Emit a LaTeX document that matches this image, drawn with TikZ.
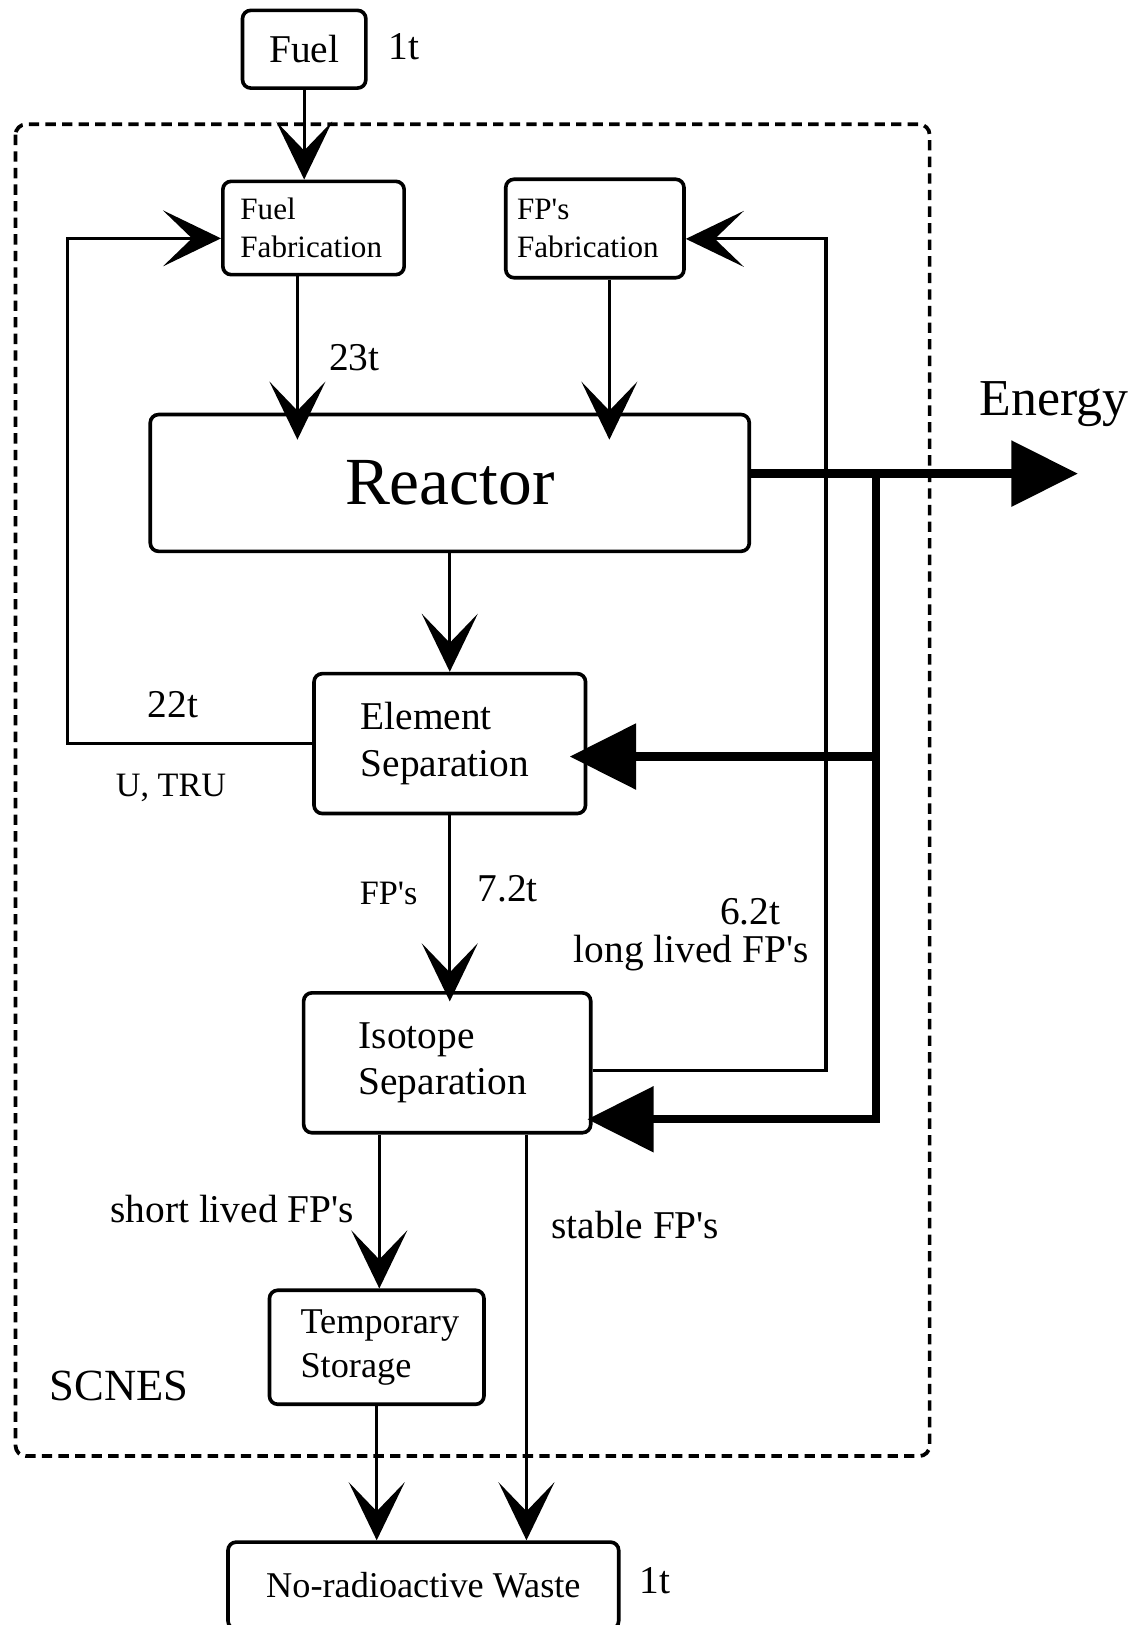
\documentclass[tikz,border=0pt]{standalone}
\usepackage{fontspec}
\setmainfont{Liberation Serif}[Ligatures=TeXOff]
\usetikzlibrary{arrows.meta,calc}
\begin{document}
\begin{tikzpicture}[x=0.5pt,y=-0.5pt,
  box/.style={draw, line width=1.75pt, rounded corners=4pt, inner sep=0pt},
  lbox/.style={box, align=left, inner xsep=0pt},
  conn/.style={line width=1.5pt},
  vhead/.style={-{Stealth[length=28pt,width=27pt,inset=14pt]}},
  thickc/.style={line width=4pt},
  bighead/.style={-{Triangle[length=32pt,width=31pt]}},
  lbl/.style={inner sep=0pt},
  fa/.style={font=\fontsize{15}{18}\selectfont},
  fb/.style={font=\fontsize{19}{22.5}\selectfont},
  fc/.style={font=\fontsize{17.5}{21}\selectfont},
  fd/.style={font=\fontsize{16.5}{20}\selectfont}
]
\useasboundingbox (0,0) rectangle (1104,1568);
% SCNES boundary
\draw[line width=1.8pt, dash pattern=on 5pt off 3pt, rounded corners=5pt] (15,120) rectangle (897,1405);

% boxes
\node[box, fb, minimum width=59.5pt, minimum height=37.5pt] (fuel) at (293.5,47.5) {Fuel};
\node[lbox, fa, text width=87.5pt, minimum height=45pt] (fuelfab) at (302.5,220) {\hspace*{8.5pt}Fuel\\\hspace*{8.5pt}Fabrication};
\node[lbox, fa, text width=86pt, minimum height=47.5pt] (fpfab) at (574,220.5) {\hspace*{5.5pt}FP's\\\hspace*{5.5pt}Fabrication};
\node[box, font=\fontsize{32.5}{38}\selectfont, minimum width=289pt, minimum height=66pt] (reactor) at (434,466) {Reactor};
\node[lbox, fb, text width=131pt, minimum height=67.5pt] (elem) at (434,717.5) {\hspace*{22.5pt}Element\\\hspace*{22.5pt}Separation};
\node[lbox, fb, text width=138.5pt, minimum height=67.5pt] (iso) at (431.5,1025.5) {\hspace*{26.5pt}Isotope\\\hspace*{26.5pt}Separation};
\node[lbox, fc, text width=103.5pt, minimum height=55pt] (temp) at (363.5,1300) {\hspace*{15pt}Temporary\\\hspace*{15pt}Storage};
\node[box, fc, minimum width=188.5pt, minimum height=42pt] (waste) at (408.5,1530) {No-radioactive Waste};

% labels
\node[lbl, fb] (l1top) at (390,45) {1t};
\node[lbl, fb] (l23) at (342,345) {23t};
\node[lbl, fb] (l22) at (167,680) {22t};
\node[lbl, fd] (lutru) at (165,760) {U, TRU};
\node[lbl, fd] (lfps) at (375,862) {FP's};
\node[lbl, fb] (l72) at (490,858) {7.2t};
\node[lbl, fb] (l62) at (724,880) {6.2t};
\node[lbl, fb] (llong) at (667,920) {long lived FP's};
\node[lbl, font=\fontsize{25}{30}\selectfont] (lenergy) at (1017,390) {Energy};
\node[lbl, fb] (lshort) at (224,1167) {short lived FP's};
\node[lbl, fb] (lstable) at (613,1182) {stable FP's};
\node[lbl, font=\fontsize{21.5}{26}\selectfont] (lscnes) at (115,1337) {SCNES};
\node[lbl, fb] (l1bot) at (632,1525) {1t};

% helper coordinates
\coordinate (loopL) at (65,720);
\coordinate (loopR) at (797,0);
\coordinate (jTop) at (845,457);
\coordinate (jBot) at (845,1080);
\coordinate (energyEnd) at (1040,457);
\path ([yshift=-5pt]fuelfab.west) coordinate (ffIn);
\path ([yshift=-5pt]fpfab.east) coordinate (fpIn);
\path ([yshift=-3.75pt]iso.east) coordinate (isoOut);
\path ([yshift=-27.25pt]iso.east) coordinate (isoIn);
\path ([yshift=-6.25pt]elem.east) coordinate (elemIn);
\path ([yshift=4.5pt]reactor.east) coordinate (reactorOut);
\path ([xshift=-7.75pt]fuelfab.south) coordinate (ffOut);
\path ([xshift=7pt]fpfab.south) coordinate (fpOut);
\path ([xshift=49.75pt]waste.north) coordinate (wasteInR);
\path ([xshift=1.25pt]temp.north) coordinate (tempIn);

% connectors
\draw[conn, vhead] (fuel.south) -- (fuel.south |- fuelfab.north);
\draw[conn, vhead, shorten >=-13pt] (ffOut) -- (ffOut |- reactor.north);
\draw[conn, vhead, shorten >=-13pt] (fpOut) -- (fpOut |- reactor.north);
\draw[conn, vhead] (reactor.south) -- (reactor.south |- elem.north);
\draw[conn, vhead, shorten >=-5pt] (elem.south) -- (elem.south |- iso.north);
\draw[conn, vhead] (elem.west) -- (elem.west -| loopL) |- (ffIn);
\draw[conn, vhead] (isoOut) -- (isoOut -| loopR) |- (fpIn);
\draw[conn, vhead] (tempIn |- iso.south) -- (tempIn);
\draw[conn, vhead] (wasteInR |- iso.south) -- (wasteInR);
\draw[conn, vhead] (temp.south) -- (temp.south |- waste.north);
\draw[thickc, bighead] (reactorOut) -- (energyEnd);
\draw[thickc, bighead, shorten >=-2.5pt] (jTop) -- (jBot) -- (isoIn);
\draw[thickc, bighead, shorten >=-8.5pt] (elemIn -| jTop) -- (elemIn);
\end{tikzpicture}
\end{document}
